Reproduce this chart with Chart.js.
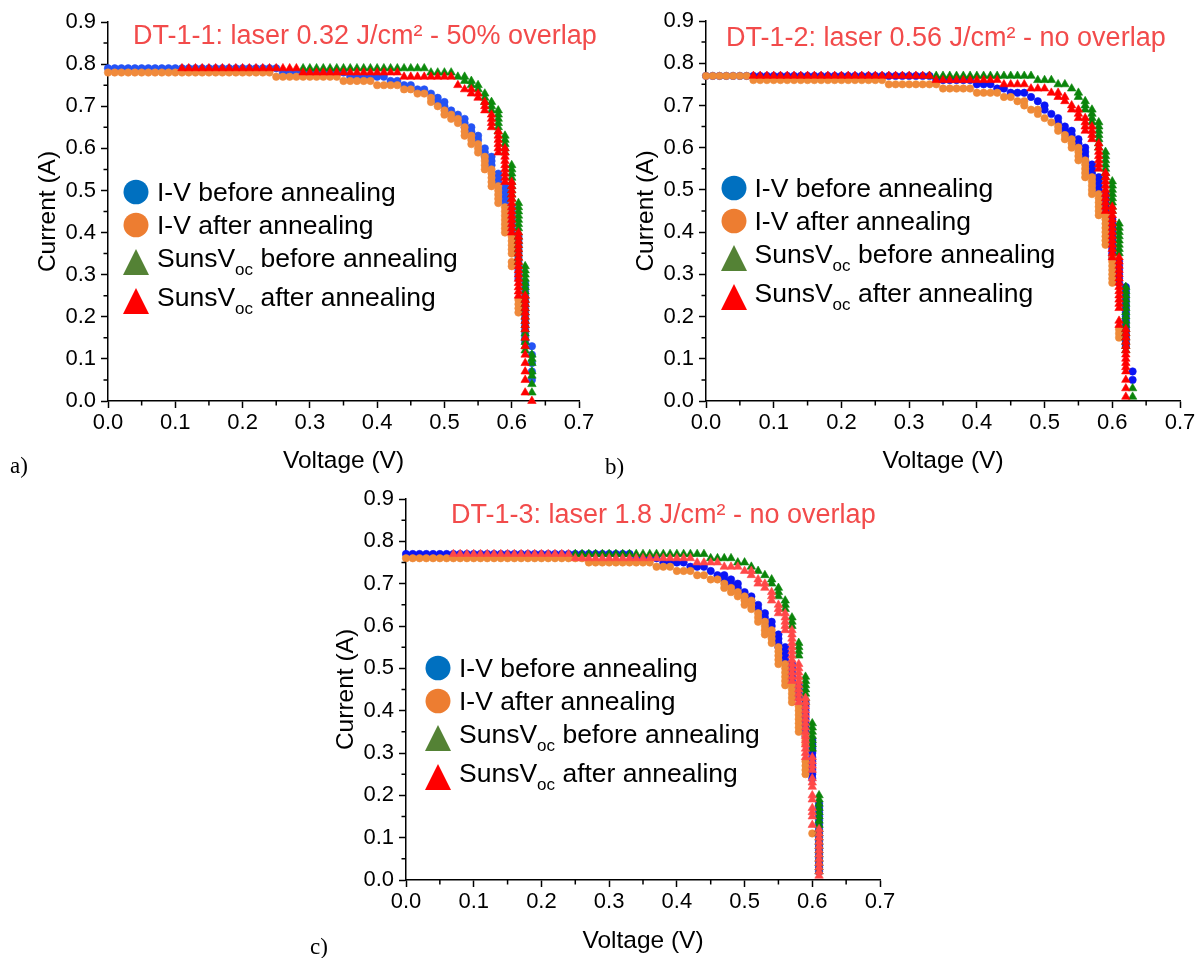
<!DOCTYPE html>
<html>
<head>
<meta charset="utf-8">
<script src="https://cdn.jsdelivr.net/npm/chart.js@4.4.1/dist/chart.umd.min.js"></script>
<style>
html,body{margin:0;padding:0;background:#fff;}
body{width:1200px;height:958px;position:relative;overflow:hidden;font-family:"Liberation Sans",Arial,sans-serif;}
.ttl{position:absolute;color:#f24b4b;font-size:27px;white-space:nowrap;line-height:1;transform:translateY(-50%);}
.ltxt{position:absolute;font-size:26.5px;white-space:nowrap;line-height:1;color:#000;transform:translateY(-50%);}
.ltxt .sub{font-size:17px;position:relative;top:8px;}
.mk{position:absolute;}
.plab{position:absolute;font-family:"Liberation Serif","DejaVu Serif",serif;font-size:23px;line-height:1;color:#000;}
</style>
</head>
<body>
<script>
// ---------------- DATA ----------------
// Each entry: [voltage (V), current(s) (A)...]
const seriesNames = ["I-V before annealing","I-V after annealing","SunsVoc before annealing","SunsVoc after annealing"];
const titles = ["DT-1-1: laser 0.32 J/cm\u00B2 - 50% overlap","DT-1-2: laser 0.56 J/cm\u00B2 - no overlap","DT-1-3: laser 1.8 J/cm\u00B2 - no overlap"];
const xTickLabels = ["0.0","0.1","0.2","0.3","0.4","0.5","0.6","0.7"];
const yTickLabels = ["0.0","0.1","0.2","0.3","0.4","0.5","0.6","0.7","0.8","0.9"];
const panelLabels = ["a)","b)","c)"];

// ---- chart a ----
const aIvBefore = [
[0.00,0.79],[0.01,0.79],[0.02,0.79],[0.03,0.79],[0.04,0.79],[0.05,0.79],[0.06,0.79],[0.07,0.79],[0.08,0.79],[0.09,0.79],
[0.10,0.79],[0.11,0.79],[0.12,0.79],[0.13,0.79],[0.14,0.79],[0.15,0.79],[0.16,0.79],[0.17,0.79],[0.18,0.79],[0.19,0.79],
[0.20,0.79],[0.21,0.79],[0.22,0.79],[0.23,0.79],[0.24,0.79],[0.25,0.79],
[0.26,0.78],[0.27,0.78],[0.28,0.78],[0.29,0.78],[0.30,0.78],[0.31,0.78],[0.32,0.78],[0.33,0.78],[0.34,0.78],[0.35,0.78],
[0.36,0.77],[0.37,0.77],[0.38,0.77],[0.39,0.77],[0.40,0.77],[0.41,0.77],
[0.42,0.76],[0.43,0.76],[0.44,0.75],[0.45,0.75],[0.46,0.74],[0.47,0.74],[0.48,0.73],
[0.49,0.72,0.71],[0.50,0.71,0.70],[0.51,0.69,0.68],[0.52,0.68,0.67],[0.53,0.67,0.66,0.65],[0.54,0.65,0.64,0.63],
[0.55,0.63,0.62],[0.56,0.60,0.59,0.58],[0.57,0.58,0.57,0.56],[0.58,0.54,0.53,0.52],[0.59,0.51,0.50,0.49,0.48,0.47],
[0.60,0.46,0.45,0.44,0.43,0.42,0.41,0.40],
[0.61,0.39,0.38,0.37,0.36,0.35,0.34,0.33,0.32,0.31,0.30,0.29],
[0.62,0.28,0.27,0.26,0.25,0.24,0.23,0.22,0.21,0.20,0.19,0.18,0.17,0.16,0.15,0.14],
[0.63,0.13,0.11,0.09,0.07,0.05]
];
const aIvAfter = [
[0.00,0.78],[0.01,0.78],[0.02,0.78],[0.03,0.78],[0.04,0.78],[0.05,0.78],[0.06,0.78],[0.07,0.78],[0.08,0.78],[0.09,0.78],
[0.10,0.78],[0.11,0.78],[0.12,0.78],[0.13,0.78],[0.14,0.78],[0.15,0.78],[0.16,0.78],[0.17,0.78],[0.18,0.78],[0.19,0.78],
[0.20,0.78],[0.21,0.78],[0.22,0.78],[0.23,0.78],[0.24,0.78],
[0.25,0.77],[0.26,0.77],[0.27,0.77],[0.28,0.77],[0.29,0.77],[0.30,0.77],[0.31,0.77],[0.32,0.77],[0.33,0.77],[0.34,0.77],
[0.35,0.76],[0.36,0.76],[0.37,0.76],[0.38,0.76],[0.39,0.76],
[0.40,0.75],[0.41,0.75],[0.42,0.75],[0.43,0.75],[0.44,0.74],[0.45,0.74],[0.46,0.73],[0.47,0.73],
[0.48,0.72,0.71],[0.49,0.70],[0.50,0.69,0.68],[0.51,0.68,0.67],[0.52,0.67,0.66],[0.53,0.65,0.64,0.63],
[0.54,0.63,0.62,0.61],[0.55,0.61,0.60,0.59],[0.56,0.58,0.57,0.56,0.55],[0.57,0.55,0.54,0.53,0.52,0.51],
[0.58,0.51,0.50,0.49,0.48,0.47],[0.59,0.46,0.45,0.44,0.43,0.42,0.41,0.40],
[0.60,0.39,0.38,0.37,0.36,0.35,0.33,0.32],[0.61,0.24,0.23,0.22,0.21]
];
const aSunsBefore = [
[0.29,0.79],[0.30,0.79],[0.31,0.79],[0.32,0.79],[0.33,0.79],[0.34,0.79],[0.35,0.79],[0.36,0.79],[0.37,0.79],[0.38,0.79],
[0.39,0.79],[0.40,0.79],[0.41,0.79],[0.42,0.79],[0.43,0.79],[0.44,0.79],[0.45,0.79],[0.46,0.79],[0.47,0.79],
[0.48,0.78],[0.49,0.78],[0.50,0.78],[0.51,0.78],[0.52,0.77],[0.53,0.77,0.76],[0.54,0.76,0.75],[0.55,0.75,0.74],
[0.56,0.73,0.72,0.71],[0.57,0.71,0.70,0.69],[0.58,0.69,0.68,0.67,0.66,0.65,0.64],[0.59,0.63,0.62,0.61,0.60,0.59],
[0.60,0.56,0.55,0.54,0.53,0.52,0.51,0.50,0.49,0.48],
[0.61,0.47,0.46,0.45,0.44,0.43,0.42,0.41,0.40,0.39,0.38,0.37,0.36,0.35,0.34,0.33],
[0.62,0.32,0.31,0.30,0.29,0.28,0.27,0.26,0.25,0.24,0.23,0.22,0.21,0.20,0.19,0.18,0.17,0.16,0.15,0.14,0.13,0.12],
[0.63,0.11,0.10,0.09,0.07,0.06,0.04,0.02]
];
const aSunsAfter = [
[0.11,0.79],[0.12,0.79],[0.13,0.79],[0.14,0.79],[0.15,0.79],[0.16,0.79],[0.17,0.79],[0.18,0.79],[0.19,0.79],[0.20,0.79],
[0.21,0.79],[0.22,0.79],[0.23,0.79],[0.24,0.79],[0.25,0.79],[0.26,0.79],[0.27,0.79],[0.28,0.79],
[0.29,0.78],[0.30,0.78],[0.31,0.78],[0.32,0.78],[0.33,0.78],[0.34,0.78],[0.35,0.78],[0.36,0.78],[0.37,0.78],[0.38,0.78],
[0.39,0.78],[0.40,0.78],[0.41,0.78],[0.42,0.78],[0.43,0.78],
[0.44,0.77],[0.45,0.77],[0.46,0.77],[0.47,0.77],[0.48,0.77],[0.49,0.77],[0.50,0.77],[0.51,0.77],
[0.52,0.75],[0.53,0.74],[0.54,0.74,0.73],[0.55,0.73,0.72],[0.56,0.71,0.70,0.69],[0.57,0.68,0.67,0.66,0.65],
[0.58,0.64,0.63,0.62,0.61,0.60,0.59],[0.59,0.60,0.59,0.58,0.57,0.56,0.55,0.54,0.53,0.52],
[0.60,0.52,0.51,0.50,0.49,0.48,0.47,0.46,0.45,0.44,0.43,0.42,0.41,0.40],
[0.61,0.40,0.39,0.38,0.37,0.36,0.35,0.34,0.33,0.32,0.31,0.30,0.29,0.28,0.27,0.26,0.25],
[0.62,0.25,0.24,0.23,0.22,0.21,0.20,0.19,0.18,0.17,0.15,0.13,0.11,0.09,0.07,0.05,0.02],
[0.63,0.00]
];

// ---- chart b ----
const bIvBefore = [
[0.00,0.77],[0.01,0.77],[0.02,0.77],[0.03,0.77],[0.04,0.77],[0.05,0.77],[0.06,0.77],[0.07,0.77],[0.08,0.77],[0.09,0.77],
[0.10,0.77],[0.11,0.77],[0.12,0.77],[0.13,0.77],[0.14,0.77],[0.15,0.77],[0.16,0.77],[0.17,0.77],[0.18,0.77],[0.19,0.77],
[0.20,0.77],[0.21,0.77],[0.22,0.77],[0.23,0.77],[0.24,0.77],[0.25,0.77],[0.26,0.77],[0.27,0.77],[0.28,0.77],[0.29,0.77],
[0.30,0.77],[0.31,0.77],[0.32,0.77],[0.33,0.77],
[0.34,0.76],[0.35,0.76],[0.36,0.76],[0.37,0.76],[0.38,0.76],[0.39,0.76],
[0.40,0.75],[0.41,0.75],[0.42,0.75],[0.43,0.74],[0.44,0.74],[0.45,0.73],[0.46,0.73],[0.47,0.73],[0.48,0.72],[0.49,0.71],
[0.50,0.70,0.69],[0.51,0.68],[0.52,0.67,0.66],[0.53,0.65,0.64],[0.54,0.64,0.63],[0.55,0.62,0.61],
[0.56,0.60,0.59,0.58,0.57],[0.57,0.56,0.55,0.54],[0.58,0.53,0.52,0.51,0.50],[0.59,0.49,0.48,0.47,0.46,0.45,0.44],
[0.60,0.43,0.42,0.41,0.40,0.39,0.38,0.37,0.36,0.35,0.34],[0.61,0.33,0.32,0.31,0.30,0.29,0.28],
[0.62,0.27,0.26,0.25,0.24,0.23,0.22,0.21,0.20,0.19,0.18,0.17,0.16,0.15,0.14,0.13],
[0.63,0.07,0.05]
];
const bIvAfter = [
[0.00,0.77],[0.01,0.77],[0.02,0.77],[0.03,0.77],[0.04,0.77],[0.05,0.77],[0.06,0.77],
[0.07,0.76],[0.08,0.76],[0.09,0.76],[0.10,0.76],[0.11,0.76],[0.12,0.76],[0.13,0.76],[0.14,0.76],[0.15,0.76],[0.16,0.76],
[0.17,0.76],[0.18,0.76],[0.19,0.76],[0.20,0.76],[0.21,0.76],[0.22,0.76],[0.23,0.76],[0.24,0.76],[0.25,0.76],[0.26,0.76],
[0.27,0.75],[0.28,0.75],[0.29,0.75],[0.30,0.75],[0.31,0.75],[0.32,0.75],[0.33,0.75],[0.34,0.75],
[0.35,0.74],[0.36,0.74],[0.37,0.74],[0.38,0.74],[0.39,0.74],
[0.40,0.73],[0.41,0.73],[0.42,0.73],[0.43,0.73],[0.44,0.72],[0.45,0.72],[0.46,0.71],[0.47,0.71,0.70],[0.48,0.69],
[0.49,0.69,0.68],[0.50,0.67],[0.51,0.66],[0.52,0.65,0.64],[0.53,0.63,0.62],[0.54,0.62,0.61,0.60],
[0.55,0.60,0.59,0.58,0.57],[0.56,0.57,0.56,0.55,0.54,0.53],[0.57,0.53,0.52,0.51,0.50,0.49],
[0.58,0.49,0.48,0.47,0.46,0.45,0.44],[0.59,0.44,0.43,0.42,0.41,0.40,0.39,0.38,0.37],
[0.60,0.34,0.33,0.32,0.31,0.30,0.29,0.28],[0.61,0.17,0.16,0.15]
];
const bSunsBefore = [
[0.33,0.77],[0.34,0.77],[0.35,0.77],[0.36,0.77],[0.37,0.77],[0.38,0.77],[0.39,0.77],[0.40,0.77],[0.41,0.77],[0.42,0.77],
[0.43,0.77],[0.44,0.77],[0.45,0.77],[0.46,0.77],[0.47,0.77],[0.48,0.77],
[0.49,0.76],[0.50,0.76],[0.51,0.76],[0.52,0.75],[0.53,0.75],[0.54,0.74],[0.55,0.73,0.72],[0.56,0.71,0.70,0.69],
[0.57,0.69,0.68,0.67,0.66],[0.58,0.66,0.65,0.64,0.63,0.62,0.61,0.60],[0.59,0.59,0.58,0.57,0.56,0.55,0.54,0.53],
[0.60,0.52,0.51,0.50,0.49,0.48,0.47,0.46,0.45],[0.61,0.42,0.41,0.40,0.39,0.38,0.37,0.36,0.35],
[0.62,0.27,0.26,0.25,0.24,0.23,0.22,0.21,0.20,0.19,0.18,0.17,0.16,0.15,0.14,0.13,0.12],
[0.63,0.03,0.01]
];
const bSunsAfter = [
[0.07,0.77],[0.08,0.77],[0.09,0.77],[0.10,0.77],[0.11,0.77],[0.12,0.77],[0.13,0.77],[0.14,0.77],[0.15,0.77],[0.16,0.77],
[0.17,0.77],[0.18,0.77],[0.19,0.77],[0.20,0.77],[0.21,0.77],[0.22,0.77],[0.23,0.77],[0.24,0.77],[0.25,0.77],[0.26,0.77],
[0.27,0.77],[0.28,0.77],[0.29,0.77],[0.30,0.77],[0.31,0.77],[0.32,0.77],[0.33,0.77],
[0.34,0.76],[0.35,0.76],[0.36,0.76],[0.37,0.76],[0.38,0.76],[0.39,0.76],[0.40,0.76],[0.41,0.76],[0.42,0.76],[0.43,0.76],
[0.44,0.75],[0.45,0.75],[0.46,0.75],[0.47,0.75],[0.48,0.74],[0.49,0.74],[0.50,0.74],
[0.51,0.73],[0.52,0.73,0.72],[0.53,0.72,0.71],[0.54,0.70,0.69],[0.55,0.69,0.68,0.67],[0.56,0.67,0.66,0.65,0.64],
[0.57,0.65,0.64,0.63,0.62],[0.58,0.61,0.60,0.59,0.58,0.57,0.56,0.55],
[0.59,0.54,0.53,0.52,0.51,0.50,0.49,0.48,0.47,0.46,0.45],
[0.60,0.46,0.45,0.44,0.43,0.42,0.41,0.40,0.39,0.38,0.37,0.36,0.35,0.34],
[0.61,0.34,0.33,0.32,0.31,0.30,0.29,0.28,0.27,0.26,0.25,0.24,0.23,0.22,0.19,0.18],
[0.62,0.17,0.16,0.15,0.14,0.13,0.12,0.11,0.10,0.09,0.08,0.07,0.05,0.03,0.01]
];

// ---- chart c ----
const cIvBefore = [
[0.00,0.77],[0.01,0.77],[0.02,0.77],[0.03,0.77],[0.04,0.77],[0.05,0.77],[0.06,0.77],[0.07,0.77],[0.08,0.77],[0.09,0.77],
[0.10,0.77],[0.11,0.77],[0.12,0.77],[0.13,0.77],[0.14,0.77],[0.15,0.77],[0.16,0.77],[0.17,0.77],[0.18,0.77],[0.19,0.77],
[0.20,0.77],[0.21,0.77],[0.22,0.77],[0.23,0.77],[0.24,0.77],[0.25,0.77],[0.26,0.77],[0.27,0.77],[0.28,0.77],[0.29,0.77],
[0.30,0.77],[0.31,0.77],[0.32,0.77],[0.33,0.77],
[0.34,0.76],[0.35,0.76],[0.36,0.76],[0.37,0.76],[0.38,0.75],[0.39,0.75],[0.40,0.75],[0.41,0.75],
[0.42,0.74],[0.43,0.74],[0.44,0.74],[0.45,0.73],[0.46,0.72],[0.47,0.72,0.71],[0.48,0.71,0.70],[0.49,0.70,0.69],
[0.50,0.68,0.67],[0.51,0.67,0.66],[0.52,0.65,0.64],[0.53,0.63,0.62],[0.54,0.61,0.60],[0.55,0.58,0.57,0.56,0.55],
[0.56,0.55,0.54,0.53,0.52],[0.57,0.51,0.50,0.49,0.48,0.47],[0.58,0.46,0.45,0.44,0.43],
[0.59,0.42,0.41,0.40,0.39,0.38,0.37,0.36,0.35,0.34],[0.60,0.33,0.32,0.31,0.30,0.29,0.28,0.27,0.26,0.25,0.24],
[0.61,0.18,0.17,0.16,0.15,0.14,0.13,0.12,0.11,0.10,0.09,0.08,0.07,0.06,0.05,0.04,0.03,0.02]
];
const cIvAfter = [
[0.00,0.76],[0.01,0.76],[0.02,0.76],[0.03,0.76],[0.04,0.76],[0.05,0.76],[0.06,0.76],[0.07,0.76],[0.08,0.76],[0.09,0.76],
[0.10,0.76],[0.11,0.76],[0.12,0.76],[0.13,0.76],[0.14,0.76],[0.15,0.76],[0.16,0.76],[0.17,0.76],[0.18,0.76],[0.19,0.76],
[0.20,0.76],[0.21,0.76],[0.22,0.76],[0.23,0.76],[0.24,0.76],[0.25,0.76],[0.26,0.76],
[0.27,0.75],[0.28,0.75],[0.29,0.75],[0.30,0.75],[0.31,0.75],[0.32,0.75],[0.33,0.75],[0.34,0.75],[0.35,0.75],[0.36,0.75],
[0.37,0.74],[0.38,0.74],[0.39,0.74],[0.40,0.73],[0.41,0.73],[0.42,0.73],[0.43,0.72],[0.44,0.72],[0.45,0.71],[0.46,0.71],
[0.47,0.70,0.69],[0.48,0.69,0.68],[0.49,0.68,0.67],[0.50,0.67,0.66,0.65],[0.51,0.66,0.65,0.64],[0.52,0.63,0.62,0.61],
[0.53,0.61,0.60,0.59,0.58],[0.54,0.59,0.58,0.57,0.56],[0.55,0.55,0.54,0.53,0.52,0.51],[0.56,0.51,0.50,0.49,0.48,0.47,0.46],
[0.57,0.46,0.45,0.44,0.43,0.42],[0.58,0.41,0.40,0.39,0.38,0.37,0.36,0.35],[0.59,0.34,0.33,0.32,0.28,0.27,0.26,0.25],
[0.60,0.11]
];
const cSunsBefore = [
[0.25,0.77],[0.26,0.77],[0.27,0.77],[0.28,0.77],[0.29,0.77],[0.30,0.77],[0.31,0.77],[0.32,0.77],[0.33,0.77],[0.34,0.77],
[0.35,0.77],[0.36,0.77],[0.37,0.77],[0.38,0.77],[0.39,0.77],[0.40,0.77],[0.41,0.77],[0.42,0.77],[0.43,0.77],[0.44,0.77],
[0.45,0.76],[0.46,0.76],[0.47,0.76],[0.48,0.76],[0.49,0.75],[0.50,0.75],[0.51,0.74],[0.52,0.73],[0.53,0.72],
[0.54,0.71,0.70],[0.55,0.69,0.68,0.67],[0.56,0.66,0.65,0.64],[0.57,0.62,0.61,0.60],[0.58,0.56,0.55,0.54,0.53],
[0.59,0.48,0.47,0.46,0.45,0.44,0.43,0.42],[0.60,0.37,0.36,0.35,0.34,0.33,0.32,0.31],
[0.61,0.20,0.19,0.18,0.17,0.16,0.15,0.14,0.13,0.12,0.11,0.10,0.09,0.08,0.07,0.06,0.05,0.04,0.03,0.02]
];
const cSunsAfter = [
[0.07,0.77],[0.08,0.77],[0.09,0.77],[0.10,0.77],[0.11,0.77],[0.12,0.77],[0.13,0.77],[0.14,0.77],[0.15,0.77],[0.16,0.77],
[0.17,0.77],[0.18,0.77],[0.19,0.77],[0.20,0.77],[0.21,0.77],[0.22,0.77],[0.23,0.77],[0.24,0.77],
[0.25,0.76],[0.26,0.76],[0.27,0.76],[0.28,0.76],[0.29,0.76],[0.30,0.76],[0.31,0.76],[0.32,0.76],[0.33,0.76],[0.34,0.76],
[0.35,0.76],[0.36,0.76],[0.37,0.76],[0.38,0.76],[0.39,0.76],[0.40,0.76],[0.41,0.76],[0.42,0.76],
[0.43,0.75],[0.44,0.75],[0.45,0.75],[0.46,0.75],[0.47,0.74],[0.48,0.74],[0.49,0.74],
[0.50,0.73],[0.51,0.73,0.72],[0.52,0.71,0.70],[0.53,0.70,0.69],[0.54,0.68,0.67,0.66],[0.55,0.65,0.64,0.63],
[0.56,0.63,0.62,0.61,0.60,0.59],[0.57,0.59,0.58,0.57,0.56,0.55,0.54,0.53,0.52,0.51,0.50,0.49,0.48,0.47],
[0.58,0.51,0.50,0.49,0.48,0.47,0.46,0.45,0.44,0.43,0.42],
[0.59,0.43,0.42,0.41,0.40,0.39,0.38,0.37,0.36,0.35,0.34,0.33,0.32,0.31,0.30,0.29],
[0.60,0.29,0.28,0.27,0.26,0.24,0.23,0.22,0.20,0.19,0.17,0.16,0.15,0.13],
[0.61,0.12,0.11,0.10,0.09,0.08,0.07,0.06,0.05,0.04,0.03,0.02,0.01]
];

// ---------------- STYLE / LAYOUT ----------------
const legendColors = ['#0070c0','#ed7d31','#548235','#ff0000'];
const panels = [
  {series:[aIvBefore,aIvAfter,aSunsBefore,aSunsAfter], colors:['#2453f5','#f08a3c','#0c8a0c','#ff0000'],
   plot:{l:108,r:579,t:22,b:401}, title:{x:133,y:35}, leg:{x:136,y:191.5}, lab:{x:10,y:454}, xtp:5},
  {series:[bIvBefore,bIvAfter,bSunsBefore,bSunsAfter], colors:['#0a14f5','#ef8a38','#0a840a','#ff0000'],
   plot:{l:706,r:1180,t:21,b:401}, title:{x:726,y:36.5}, leg:{x:733.5,y:188}, lab:{x:605,y:455}, xtp:5},
  {series:[cIvBefore,cIvAfter,cSunsBefore,cSunsAfter], colors:['#0a14f5','#ef8a38','#0a840a','#ff4848'],
   plot:{l:406,r:880,t:499,b:880}, title:{x:451,y:514}, leg:{x:438,y:667.5}, lab:{x:310,y:935}, xtp:4}
];

Chart.defaults.font.family = "'Liberation Sans', Arial, sans-serif";
Chart.defaults.color = '#000';

function toPoints(cols){
  const out=[];
  for(const c of cols){ for(let k=1;k<c.length;k++) out.push({x:c[0], y:c[k]}); }
  return out;
}

const minorTicks = {
  id:'minorTicks',
  afterDraw(chart){
    const {ctx, chartArea:ca, scales:{x,y}} = chart;
    ctx.save();
    ctx.strokeStyle='#000'; ctx.lineWidth=1.5;
    ctx.beginPath();
    for(let k=0;k<7;k++){ const px=x.getPixelForValue(0.05+0.1*k); ctx.moveTo(px,ca.bottom); ctx.lineTo(px,ca.bottom+4.5); }
    for(let k=0;k<9;k++){ const py=y.getPixelForValue(0.05+0.1*k); ctx.moveTo(ca.left,py); ctx.lineTo(ca.left-4.5,py); }
    ctx.stroke();
    ctx.restore();
  }
};

const YW=88, XH=80, PT=22;
panels.forEach((p,pi)=>{
  const padR = Math.min(30, 1200-p.plot.r);
  const W = YW + (p.plot.r-p.plot.l) + padR;
  const H = PT + (p.plot.b-p.plot.t) + XH;
  const cv=document.createElement('canvas');
  cv.width=W; cv.height=H;
  cv.style.cssText=`position:absolute;left:${p.plot.l-YW}px;top:${p.plot.t-PT}px;width:${W}px;height:${H}px;`;
  document.body.appendChild(cv);
  const styles=['circle','circle','triangle','triangle'];
  const radii=[3.7,3.7,4.9,4.9];
  const orders=[4,3,2,1];
  const datasets=p.series.map((s,i)=>({
    label:seriesNames[i], data:toPoints(s),
    pointStyle:styles[i], pointRadius:radii[i],
    backgroundColor:p.colors[i], borderColor:p.colors[i], pointBorderWidth:0.6,
    order:orders[i], clip:false, showLine:false
  }));
  new Chart(cv,{
    type:'scatter',
    data:{datasets},
    options:{
      responsive:false, animation:false, devicePixelRatio:1, events:[],
      layout:{padding:{left:0,top:PT,right:padR,bottom:0}},
      plugins:{legend:{display:false}, tooltip:{enabled:false}, title:{display:false}},
      scales:{
        x:{type:'linear', min:0, max:0.7,
          ticks:{stepSize:0.1, autoSkip:false, maxRotation:0, padding:2, font:{size:22}, color:'#000',
                 callback:v=>xTickLabels[Math.round(v*10)]},
          grid:{display:true, drawOnChartArea:false, drawTicks:true, tickLength:7, tickWidth:1.5, tickColor:'#000'},
          border:{display:true, color:'#000', width:1.5},
          title:{display:true, text:'Voltage (V)', font:{size:24.5}, color:'#000', padding:{top:0,bottom:p.xtp}},
          afterFit:s=>{s.height=XH; s.paddingLeft=0; s.paddingRight=0;}
        },
        y:{type:'linear', min:0, max:0.9,
          ticks:{stepSize:0.1, autoSkip:false, padding:5, font:{size:22}, color:'#000',
                 callback:v=>yTickLabels[Math.round(v*10)]},
          grid:{display:true, drawOnChartArea:false, drawTicks:true, tickLength:7, tickWidth:1.5, tickColor:'#000'},
          border:{display:true, color:'#000', width:1.5},
          title:{display:true, text:'Current (A)', font:{size:24.5}, color:'#000', padding:{top:14,bottom:0}},
          afterFit:s=>{s.width=YW; s.paddingTop=0; s.paddingBottom=0;}
        }
      }
    },
    plugins:[minorTicks]
  });

  // title
  const t=document.createElement('div');
  t.className='ttl'; t.textContent=titles[pi];
  t.style.left=p.title.x+'px'; t.style.top=p.title.y+'px';
  document.body.appendChild(t);

  // legend
  const rowOff=[0,33,66,105];
  for(let i=0;i<4;i++){
    const cy=p.leg.y+rowOff[i];
    const mk=document.createElementNS('http://www.w3.org/2000/svg','svg');
    mk.setAttribute('class','mk');
    if(i<2){
      mk.setAttribute('width','26'); mk.setAttribute('height','26');
      mk.style.left=(p.leg.x-13)+'px'; mk.style.top=(cy-13)+'px';
      mk.innerHTML=`<ellipse cx="13" cy="13" rx="12.5" ry="12.3" fill="${legendColors[i]}"/>`;
    } else {
      mk.setAttribute('width','28'); mk.setAttribute('height','28');
      mk.style.left=(p.leg.x-14)+'px'; mk.style.top=(cy-10)+'px';
      mk.innerHTML=`<polygon points="14,1 27,27 1,27" fill="${legendColors[i]}"/>`;
    }
    document.body.appendChild(mk);
    const tx=document.createElement('div');
    tx.className='ltxt';
    tx.style.left=(p.leg.x+21)+'px'; tx.style.top=cy+'px';
    if(i<2) tx.textContent=seriesNames[i];
    else tx.innerHTML='SunsV<span class="sub">oc</span>'+seriesNames[i].slice(7);
    document.body.appendChild(tx);
  }

  const lb=document.createElement('div');
  lb.className='plab'; lb.textContent=panelLabels[pi];
  lb.style.left=p.lab.x+'px'; lb.style.top=p.lab.y+'px';
  document.body.appendChild(lb);
});
</script>
</body>
</html>
